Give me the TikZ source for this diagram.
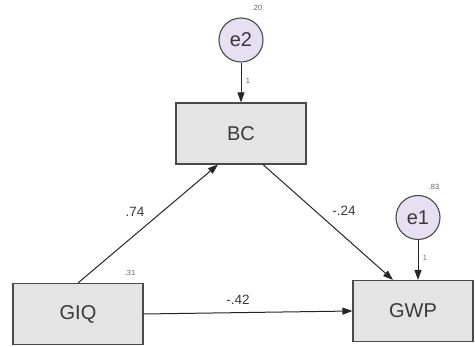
\documentclass[tikz,border=0pt]{standalone}
\usepackage{fontspec}
\setmainfont{Liberation Sans}
\usetikzlibrary{arrows.meta,calc}
\definecolor{boxfill}{HTML}{E4E4E4}
\definecolor{boxline}{HTML}{4A4A4A}
\definecolor{errfill}{HTML}{E6E0F2}
\definecolor{txt}{HTML}{3A3A3A}
\begin{document}
\begin{tikzpicture}[x=1pt,y=-1pt,
  varbox/.style={draw=boxline,line width=1.1pt,fill=boxfill,minimum width=130pt,minimum height=61pt,inner sep=0pt,font=\fontsize{20}{22}\selectfont,text=txt},
  errc/.style={circle,draw=boxline,line width=1.1pt,fill=errfill,minimum size=44pt,inner sep=0pt,font=\fontsize{20}{22}\selectfont,text=txt},
  regpath/.style={draw=black!85,line width=1pt,-{Triangle[length=10pt,width=7pt]}},
  coef/.style={font=\fontsize{13.5}{15}\selectfont,text=txt},
  small/.style={font=\fontsize{7.5}{8}\selectfont,text=black!60}]
\useasboundingbox (0,0) rectangle (475,347);
\node[varbox] (BC) at (241,133.5) {BC};
\node[varbox] (GIQ) at (78,314) {GIQ};
\node[varbox,minimum width=120pt] (GWP) at (413,311) {GWP};
\node[errc] (e2) at (241,40) {e2};
\node[errc] (e1) at (418,217.5) {e1};
\node[small] (v20) at (257,8) {.20};
\node[small] (v83) at (434,187) {.83};
\node[small] (v31) at (130,273) {.31};
\draw[regpath] (e2) -- (BC.north -| e2) node[small,pos=0.45,right=1pt] (w2) {1};
\draw[regpath] (e1) -- (GWP.north -| e1) node[small,pos=0.45,right=1pt] (w1) {1};
\draw[regpath] (GIQ.north) -- ($(BC.south)+(-23,0)$);
\draw[regpath] ($(BC.south)+(22,0)$) -- ($(GWP.north)+(-20,0)$);
\draw[regpath] (GIQ.east) -- (GWP.west);
\node[coef] (c74) at (135,212) {.74};
\node[coef] (c24) at (344,211) {-.24};
\node[coef] (c42) at (238,300) {-.42};
\end{tikzpicture}
\end{document}
